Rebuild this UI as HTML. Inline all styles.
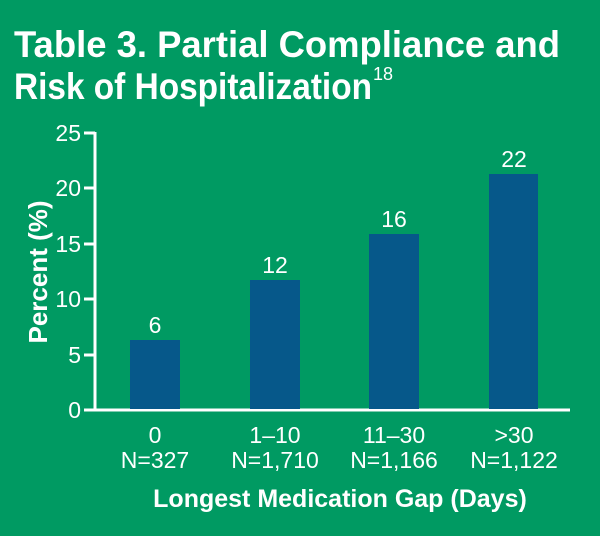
<!DOCTYPE html>
<html><head><style>
body{margin:0;width:600px;height:536px;background:#009a62;overflow:hidden;font-family:"Liberation Sans",sans-serif;color:#fff}
</style></head><body>
<svg width="600" height="536" xmlns="http://www.w3.org/2000/svg" style="position:absolute;left:0;top:0">
<g fill="#fff" font-family="Liberation Sans, sans-serif">
<text x="14" y="57" font-size="37" font-weight="bold" textLength="546" lengthAdjust="spacingAndGlyphs">Table 3. Partial Compliance and</text>
<text x="14" y="99" font-size="37" font-weight="bold" textLength="358" lengthAdjust="spacingAndGlyphs">Risk of Hospitalization</text>
<text x="373" y="80" font-size="18">18</text>
<g font-size="23" text-anchor="end">
<text x="81" y="141">25</text><text x="81" y="196">20</text><text x="81" y="252">15</text>
<text x="81" y="307">10</text><text x="81" y="363">5</text><text x="81" y="418">0</text>
</g>
<text transform="translate(47,272) rotate(-90)" font-size="26" font-weight="bold" text-anchor="middle">Percent (%)</text>
</g>
<g stroke="#fff" stroke-width="3">
<line x1="95" y1="132" x2="95" y2="411"/>
<line x1="84" y1="410" x2="570" y2="410"/>
<line x1="84" y1="133" x2="95" y2="133"/><line x1="84" y1="188" x2="95" y2="188"/>
<line x1="84" y1="244" x2="95" y2="244"/><line x1="84" y1="299" x2="95" y2="299"/>
<line x1="84" y1="355" x2="95" y2="355"/>
</g>
<g fill="#06588a">
<rect x="130" y="340" width="50" height="69"/>
<rect x="250" y="280" width="50" height="129"/>
<rect x="369" y="234" width="50" height="175"/>
<rect x="489" y="174" width="49" height="235"/>
</g>
<g fill="#fff" font-size="23" text-anchor="middle" font-family="Liberation Sans, sans-serif">
<text x="155" y="333">6</text><text x="275" y="273">12</text>
<text x="394" y="227">16</text><text x="514" y="167">22</text>
<text x="155" y="443">0</text><text x="155" y="468">N=327</text>
<text x="275" y="443">1–10</text><text x="275" y="468">N=1,710</text>
<text x="394" y="443">11–30</text><text x="394" y="468">N=1,166</text>
<text x="514" y="443">&gt;30</text><text x="514" y="468">N=1,122</text>
<text x="340" y="507" font-size="25" font-weight="bold">Longest Medication Gap (Days)</text>
</g>
</svg>
</body></html>
